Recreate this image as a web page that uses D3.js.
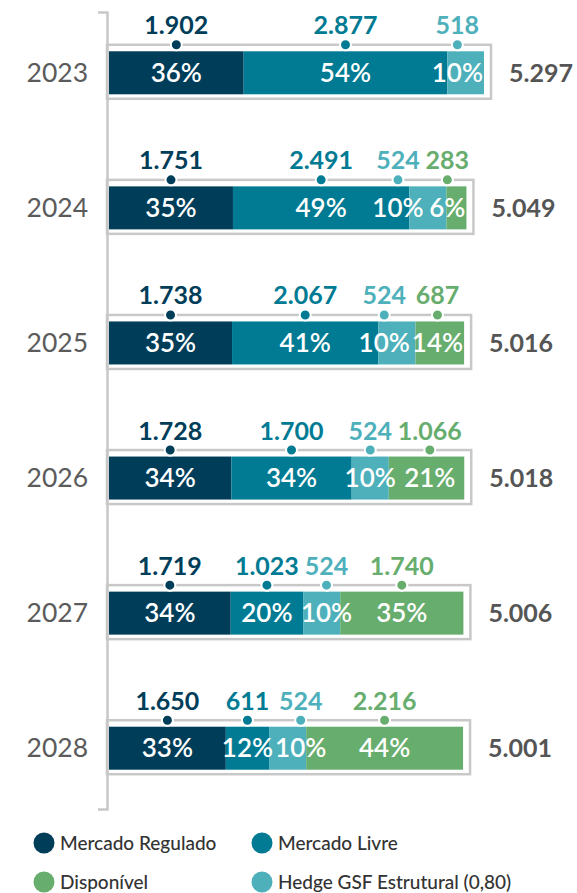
<!DOCTYPE html>
<html>
<head>
<meta charset="utf-8">
<script src="https://cdn.jsdelivr.net/npm/d3@7"></script>
<style>
  body { margin: 0; background: #fff; }
  svg { font-family: Lato, 'Open Sans', sans-serif; display: block; }
</style>
</head>
<body>
<script>
// data (MWm)
const years = ['2023', '2024', '2025', '2026', '2027', '2028'];
const regulado = [1902, 1751, 1738, 1728, 1719, 1650];
const livre = [2877, 2491, 2067, 1700, 1023, 611];
const hedge = [518, 524, 524, 524, 524, 524];
const disponivel = [0, 283, 687, 1066, 1740, 2216];

const seriesNames = ['Mercado Regulado', 'Mercado Livre', 'Hedge GSF Estrutural (0,80)', 'Disponível'];
const colors = ['#003d59', '#007b93', '#4db0bb', '#67ad6e'];
const legendOrder = [0, 1, 3, 2];

const br = d3.formatLocale({decimal: ',', thousands: '.', grouping: [3], currency: ['R$', '']});
const fmt = br.format(',d');

const rows = years.map((yr, i) => {
  const vals = [regulado[i], livre[i], hedge[i], disponivel[i]];
  let acc = 0;
  const segs = vals.map((v, k) => {
    const s = {k: k, v: v, x0: acc};
    acc += v;
    s.x1 = acc;
    return s;
  }).filter(s => s.v > 0);
  segs.forEach(s => s.pct = Math.round(s.v / acc * 100));
  return {yr: yr, segs: segs, total: acc};
});

const svg = d3.select('body').append('svg')
  .attr('width', 577)
  .attr('height', 893);

const barH = 43;

let x = d3.scaleLinear()
  .domain([0, d3.max(rows, r => r.total)])
  .range([109, 484]);

let y = d3.scalePoint()
  .domain(years)
  .range([12, 809])
  .padding(0.45);

// left bracket axis with years
let yAxis = svg.append('g')
  .attr('transform', 'translate(107,0)')
  .call(d3.axisLeft(y).tickSize(0).tickSizeOuter(9).tickPadding(19))
  .attr('font-family', null)
  .attr('font-size', null);

yAxis.select('.domain')
  .attr('stroke', '#c8c8c8')
  .attr('stroke-width', 2.5);

yAxis.selectAll('text')
  .attr('font-size', 26.5)
  .attr('fill', '#5b5b5b');

let rowG = svg.selectAll('.row').data(rows)
  .enter()
    .append('g')
    .attr('class', 'row')
    .attr('transform', d => `translate(0,${y(d.yr)})`);

// grey frame round each bar
rowG.append('rect')
  .attr('x', 107)
  .attr('y', -barH / 2 - 6.5)
  .attr('width', d => x(d.total) + 7 - 107)
  .attr('height', barH + 11)
  .attr('fill', 'none')
  .attr('stroke', '#c8c8c8')
  .attr('stroke-width', 2.5);

rowG.selectAll('.seg').data(d => d.segs)
  .enter()
    .append('rect')
    .attr('class', 'seg')
    .attr('x', d => x(d.x0))
    .attr('y', -barH / 2)
    .attr('width', d => x(d.x1) - x(d.x0))
    .attr('height', barH)
    .attr('fill', d => colors[d.k]);

rowG.append('text')
  .attr('x', d => x(d.total) + 25)
  .attr('dy', '0.35em')
  .attr('font-size', 25)
  .attr('font-weight', 700)
  .attr('fill', '#555')
  .text(d => fmt(d.total));

// labels: value above, dot on frame, share inside
rowG.each(function(row) {
  const g = d3.select(this);
  const end = x(row.total);

  const items = row.segs.map(s => {
    const cx = (x(s.x0) + x(s.x1)) / 2;
    const val = g.append('text')
      .attr('y', -barH / 2 - 17)
      .attr('text-anchor', 'middle')
      .attr('font-size', 25)
      .attr('font-weight', 700)
      .attr('fill', colors[s.k])
      .text(fmt(s.v));
    const pct = g.append('text')
      .attr('dy', '0.35em')
      .attr('text-anchor', 'middle')
      .attr('font-size', 26)
      .attr('font-weight', 600)
      .attr('fill', '#fff')
      .text(s.pct + '%');
    const wv = val.node().getComputedTextLength();
    const wp = pct.node().getComputedTextLength();
    return {s: s, cx: cx, val: val, pct: pct, w: Math.max(wv, wp), wp: wp};
  });

  // keep neighbours from overlapping, and the shares inside the bar
  for (let i = 1; i < items.length; i++) {
    const gap = (items[i - 1].w + items[i].w) / 2 + 2;
    items[i].cx = Math.max(items[i].cx, items[i - 1].cx + gap);
  }
  for (let i = items.length - 1; i >= 0; i--) {
    items[i].cx = Math.min(items[i].cx, end - items[i].wp / 2 - 1);
    if (i < items.length - 1) {
      const gap = (items[i].w + items[i + 1].w) / 2 + 2;
      items[i].cx = Math.min(items[i].cx, items[i + 1].cx - gap);
    }
  }

  items.forEach(it => {
    it.val.attr('x', it.cx);
    it.pct.attr('x', it.cx);
    g.append('circle')
      .attr('cx', it.cx)
      .attr('cy', -barH / 2 - 6.5)
      .attr('r', 5.5)
      .attr('fill', colors[it.s.k])
      .attr('stroke', '#fff')
      .attr('stroke-width', 2);
  });
});

// legend
let legend = svg.selectAll('.legend').data(legendOrder)
  .enter()
    .append('g')
    .attr('class', 'legend')
    .attr('transform', (d, i) => `translate(${i % 2 ? 262 : 44},${i < 2 ? 843 : 882})`);

legend.append('circle')
  .attr('r', 10.5)
  .attr('fill', d => colors[d]);

legend.append('text')
  .attr('x', 16)
  .attr('dy', '0.35em')
  .attr('font-size', 19)
  .attr('font-weight', 500)
  .attr('fill', '#333')
  .text(d => seriesNames[d]);
</script>
</body>
</html>
